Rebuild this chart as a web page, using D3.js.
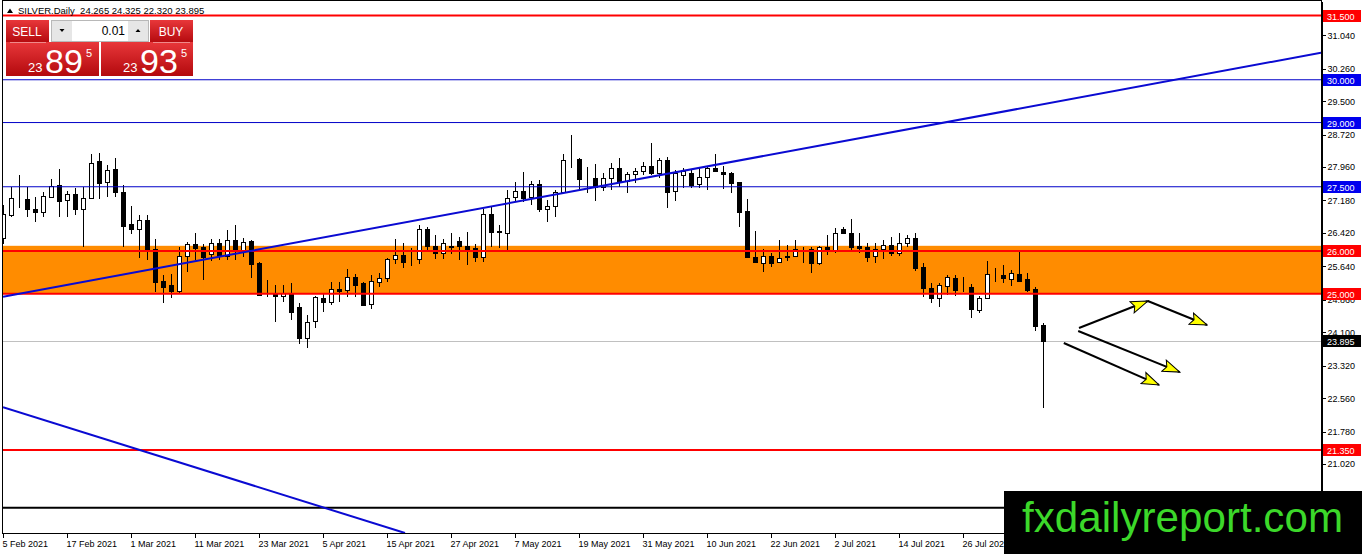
<!DOCTYPE html>
<html>
<head>
<meta charset="utf-8">
<script src="https://cdn.jsdelivr.net/npm/d3@7"></script>
<style>
  body { margin: 0; background: #fff; overflow: hidden; }
  svg { display: block; font-family: "Liberation Sans", Arial, sans-serif; }
</style>
</head>
<body>
<svg id="chart" width="1362" height="554"></svg>
<script>
// ---- data ----
const symbolTitle = "SILVER.Daily  24.265 24.325 22.320 23.895";

const dateLabels = ["5 Feb 2021", "17 Feb 2021", "1 Mar 2021", "11 Mar 2021", "23 Mar 2021", "5 Apr 2021",
  "15 Apr 2021", "27 Apr 2021", "7 May 2021", "19 May 2021", "31 May 2021", "10 Jun 2021",
  "22 Jun 2021", "2 Jul 2021", "14 Jul 2021", "26 Jul 2021"];
const dateLabelBars = [0, 8, 16, 24, 32, 40, 48, 56, 64, 72, 80, 88, 96, 104, 112, 120];

const priceTicks = [31.04, 30.26, 29.5, 28.72, 27.96, 27.18, 26.42, 25.64, 24.86, 24.1, 23.32, 22.56, 21.78, 21.02];

const opens = [26.30, 26.84, 27.21, 27.21, 26.98, 26.91, 27.26, 27.54, 27.19, 27.33,
  26.98, 27.24, 28.10, 27.61, 27.92, 27.38, 26.63, 26.51, 26.72, 26.05,
  25.30, 25.21, 25.07, 25.88, 26.16, 26.09, 25.93, 26.19, 25.88, 26.26,
  26.02, 26.23, 25.72, 24.99, 25.02, 24.95, 25.02, 24.69, 23.97, 24.36,
  24.90, 24.81, 25.11, 25.09, 25.39, 25.25, 24.76, 25.28, 25.37, 25.81,
  25.91, 25.77, 25.81, 26.51, 26.12, 25.95, 26.12, 26.23, 26.12, 26.07,
  25.86, 26.86, 26.47, 26.42, 27.26, 27.40, 27.26, 27.57, 26.98, 27.05,
  27.38, 28.15, 28.15, 27.71, 27.71, 27.50, 27.71, 27.94, 27.63, 27.80,
  27.87, 27.99, 27.82, 28.13, 27.40, 27.78, 27.82, 27.57, 27.73, 27.94,
  27.85, 27.82, 27.61, 26.93, 25.86, 25.72, 25.88, 25.74, 25.86, 25.88,
  26.05, 26.05, 25.72, 26.09, 26.00, 26.51, 26.42, 26.12, 26.09, 25.88,
  26.05, 26.14, 25.95, 26.19, 26.30, 25.63, 25.14, 24.90, 25.18, 25.37,
  25.14, 25.16, 24.62, 24.90, 25.46, 25.44, 25.35, 25.46, 25.35, 25.11,
  24.265];
const highs = [27.07, 27.50, 27.78, 27.50, 27.26, 27.38, 27.68, 27.92, 27.40, 27.47,
  27.50, 28.27, 28.29, 28.01, 28.17, 27.54, 27.05, 26.84, 26.84, 26.28,
  25.44, 25.46, 26.09, 26.21, 26.42, 26.16, 26.28, 26.28, 26.49, 26.61,
  26.30, 26.25, 25.74, 25.32, 25.21, 25.21, 25.25, 24.78, 24.50, 24.95,
  25.02, 25.28, 25.28, 25.58, 25.46, 25.27, 25.44, 25.49, 25.84, 26.28,
  26.19, 26.07, 26.61, 26.56, 26.37, 26.28, 26.42, 26.33, 26.44, 26.16,
  26.98, 27.03, 26.61, 27.43, 27.61, 27.85, 27.63, 27.66, 27.19, 27.43,
  28.27, 28.71, 28.17, 27.96, 28.03, 27.82, 28.06, 28.17, 27.85, 27.94,
  28.08, 28.52, 28.17, 28.20, 27.89, 27.94, 27.92, 27.94, 27.99, 28.27,
  27.99, 27.85, 27.62, 27.21, 26.47, 26.05, 25.95, 26.26, 26.14, 26.26,
  26.09, 26.09, 26.12, 26.37, 26.54, 26.56, 26.75, 26.42, 26.19, 26.19,
  26.26, 26.33, 26.42, 26.37, 26.42, 25.72, 25.25, 25.25, 25.44, 25.44,
  25.39, 25.23, 24.95, 25.77, 25.60, 25.67, 25.56, 25.98, 25.49, 25.16,
  24.325];
const lows = [26.16, 26.79, 27.00, 26.79, 26.68, 26.79, 27.25, 26.79, 26.79, 26.84,
  26.09, 27.23, 27.21, 27.26, 27.26, 26.09, 26.40, 25.84, 25.79, 25.04,
  24.78, 24.90, 24.99, 25.51, 25.79, 25.32, 25.77, 25.79, 25.79, 25.79,
  25.86, 25.37, 24.95, 24.93, 24.34, 24.81, 24.39, 23.83, 23.73, 24.20,
  24.57, 24.74, 24.81, 24.93, 24.93, 24.72, 24.64, 25.16, 25.28, 25.70,
  25.60, 25.65, 25.70, 25.98, 25.81, 25.81, 25.93, 25.79, 25.67, 25.74,
  25.74, 26.09, 26.07, 26.02, 27.14, 27.14, 27.07, 26.91, 26.68, 26.79,
  27.37, 27.94, 27.45, 27.35, 27.17, 27.40, 27.43, 27.50, 27.35, 27.59,
  27.78, 27.78, 27.71, 27.00, 27.17, 27.47, 27.47, 27.47, 27.43, 27.85,
  27.45, 27.35, 26.56, 25.84, 25.72, 25.51, 25.63, 25.72, 25.77, 25.86,
  25.72, 25.49, 25.67, 25.91, 25.95, 26.40, 25.98, 25.95, 25.74, 25.72,
  25.81, 25.88, 25.88, 26.09, 25.53, 24.93, 24.78, 24.69, 24.97, 24.95,
  25.04, 24.43, 24.55, 24.89, 25.28, 25.25, 25.18, 25.28, 25.04, 24.13,
  22.32];
const closes = [26.86, 27.24, 27.22, 26.98, 26.91, 27.28, 27.52, 27.17, 27.33, 26.98,
  27.24, 28.06, 27.59, 27.89, 27.38, 26.58, 26.51, 26.72, 26.05, 25.28,
  25.16, 25.07, 25.88, 26.16, 26.07, 25.86, 26.19, 25.88, 26.26, 26.02,
  26.21, 25.70, 24.97, 24.99, 24.95, 25.02, 24.57, 23.97, 24.34, 24.93,
  24.81, 25.11, 25.07, 25.39, 25.21, 24.74, 25.30, 25.37, 25.81, 25.91,
  25.74, 25.77, 26.51, 26.12, 25.95, 26.19, 26.09, 26.12, 26.02, 25.86,
  26.86, 26.44, 26.44, 27.24, 27.40, 27.24, 27.57, 26.98, 27.05, 27.38,
  28.13, 28.14, 27.68, 27.70, 27.50, 27.71, 27.94, 27.61, 27.80, 27.87,
  27.99, 27.82, 28.13, 27.38, 27.82, 27.87, 27.54, 27.73, 27.94, 27.87,
  27.80, 27.59, 26.91, 25.86, 25.74, 25.88, 25.72, 25.84, 25.88, 26.05,
  26.04, 25.72, 26.09, 26.00, 26.42, 26.42, 26.09, 26.07, 25.86, 26.05,
  26.14, 25.95, 26.19, 26.30, 25.60, 25.14, 24.90, 25.21, 25.39, 25.09,
  25.13, 24.64, 24.90, 25.46, 25.47, 25.37, 25.49, 25.30, 25.09, 24.25,
  23.895];

const lastPrice = 23.895;
const zoneTop = 26.12, zoneBottom = 25.0;
const levelPrices = [31.5, 30.0, 29.0, 27.5, 26.0, 25.0, 21.35, 20.0];
const levelKinds = ["major", "minor", "minor", "minor", "major", "major", "major", "floor"];

// trend lines and arrows as [bar, price] points
const trendUp = [[0, 24.93], [164.75, 30.63]];
const trendDown = [[0, 22.35], [50.25, 19.41]];
const arrows = [
  [[134.5, 24.20], [143.1, 24.83]],
  [[143.1, 24.83], [150.5, 24.27]],
  [[134.4, 24.13], [147.1, 23.17]],
  [[132.6, 23.85], [144.5, 22.87]]
];

// ---- styles ----
const kindStyle = {
  major: { color: "#ff0000", width: 2, tag: "#ff0000" },
  minor: { color: "#0000c8", width: 1, tag: "#0000ee" },
  floor: { color: "#000000", width: 2, tag: null }
};

const plot = { left: 3, right: 1321, top: 1, bottom: 533 };
const svg = d3.select("#chart");

const x = d3.scaleLinear().domain([0, 164.75]).range([plot.left, plot.right]);
const y = d3.scaleLinear().domain([19.41, 31.84]).range([plot.bottom, plot.top]);

svg.append("defs").append("clipPath").attr("id", "plotClip")
  .append("rect")
    .attr("x", plot.left).attr("y", plot.top)
    .attr("width", plot.right - plot.left).attr("height", plot.bottom - plot.top);

const defs = svg.select("defs");
defs.append("marker")
    .attr("id", "head")
    .attr("markerUnits", "userSpaceOnUse")
    .attr("viewBox", "-18 -7 19 14")
    .attr("refX", 0).attr("refY", 0)
    .attr("markerWidth", 19).attr("markerHeight", 14)
    .attr("orient", "auto")
  .append("path")
    .attr("d", "M0,0 L-17,-6 L-14,0 L-17,6 Z")
    .attr("fill", "#ffff00")
    .attr("stroke", "#000")
    .attr("stroke-width", 1);

const grad = defs.append("linearGradient").attr("id", "redBtn")
  .attr("x1", 0).attr("y1", 0).attr("x2", 0).attr("y2", 1);
grad.append("stop").attr("offset", "0%").attr("stop-color", "#e8373a");
grad.append("stop").attr("offset", "100%").attr("stop-color", "#b3090d");

const g = svg.append("g").attr("clip-path", "url(#plotClip)");

// zone
g.append("rect")
  .attr("x", plot.left).attr("width", plot.right - plot.left)
  .attr("y", y(zoneTop)).attr("height", y(zoneBottom) - y(zoneTop))
  .attr("fill", "#ff8c00");

// current price line
g.append("line")
  .attr("x1", plot.left).attr("x2", plot.right)
  .attr("y1", Math.round(y(lastPrice)) + 0.5).attr("y2", Math.round(y(lastPrice)) + 0.5)
  .attr("stroke", "#c0c0c0").attr("stroke-width", 1);

// candles
const bars = d3.range(opens.length).map(i => ({ i, o: opens[i], h: highs[i], l: lows[i], c: closes[i] }));
const candle = g.append("g").attr("shape-rendering", "crispEdges")
  .selectAll("g").data(bars).join("g");

candle.append("line")
  .attr("x1", d => Math.round(x(d.i)) + 0.5)
  .attr("x2", d => Math.round(x(d.i)) + 0.5)
  .attr("y1", d => y(d.h))
  .attr("y2", d => y(d.l))
  .attr("stroke", "#000");

candle.append("rect")
  .attr("x", d => Math.round(x(d.i)) - 2 + 0.5)
  .attr("width", 4)
  .attr("y", d => Math.round(y(Math.max(d.o, d.c))) + 0.5)
  .attr("height", d => Math.max(0, Math.round(Math.abs(y(d.o) - y(d.c)))))
  .attr("fill", d => d.c >= d.o ? "#fff" : "#000")
  .attr("stroke", "#000");

// horizontal levels
g.selectAll(".level").data(levelPrices).join("line")
  .attr("class", "level")
  .attr("x1", plot.left).attr("x2", plot.right)
  .attr("y1", d => y(d)).attr("y2", d => y(d))
  .attr("stroke", (d, i) => kindStyle[levelKinds[i]].color)
  .attr("stroke-width", (d, i) => kindStyle[levelKinds[i]].width);

// trend lines
const line = d3.line().x(d => x(d[0])).y(d => y(d[1]));
g.selectAll(".trend").data([trendUp, trendDown]).join("path")
  .attr("class", "trend")
  .attr("d", line)
  .attr("fill", "none")
  .attr("stroke", "#0a0ad2")
  .attr("stroke-width", 2);

// arrows
g.selectAll(".arrow").data(arrows).join("path")
  .attr("class", "arrow")
  .attr("d", line)
  .attr("fill", "none")
  .attr("stroke", "#000")
  .attr("stroke-width", 2)
  .attr("marker-end", "url(#head)");

// frame
svg.append("rect")
  .attr("x", 2.5).attr("y", 0.5)
  .attr("width", plot.right - 2.5).attr("height", plot.bottom - 0.5)
  .attr("fill", "none").attr("stroke", "#000").attr("shape-rendering", "crispEdges");

// price axis
const yAxis = svg.append("g")
  .attr("transform", `translate(${plot.right + 0.5},0)`)
  .attr("shape-rendering", "crispEdges")
  .call(d3.axisRight(y).tickValues(priceTicks).tickSize(4).tickSizeOuter(0).tickFormat(d3.format(".3f")));
yAxis.select(".domain").attr("stroke", "#000");
yAxis.selectAll("text").attr("font-size", 9).attr("font-family", "Liberation Sans, Arial, sans-serif")
  .attr("fill", "#000").attr("x", 6);

// level tags on axis
const tagged = levelPrices.map((p, i) => ({ p, style: kindStyle[levelKinds[i]] })).filter(d => d.style.tag);
tagged.push({ p: lastPrice, style: { tag: "#000" } });
const tag = svg.append("g").selectAll("g").data(tagged).join("g")
  .attr("transform", d => `translate(${plot.right + 1},${Math.round(y(d.p))})`);
tag.append("rect")
  .attr("x", 1).attr("y", -6).attr("width", 38).attr("height", 12)
  .attr("fill", d => d.style.tag);
tag.append("text")
  .attr("x", 5).attr("y", 3.5)
  .attr("font-size", 9)
  .attr("fill", "#fff")
  .text(d => d3.format(".3f")(d.p));

// date axis
const xAxis = svg.append("g")
  .attr("transform", `translate(0,${plot.bottom + 0.5})`)
  .attr("shape-rendering", "crispEdges")
  .call(d3.axisBottom(x).tickValues(dateLabelBars).tickSize(4).tickSizeOuter(0)
    .tickFormat((d, i) => dateLabels[i]));
xAxis.select(".domain").remove();
xAxis.selectAll(".tick line").attr("transform", "translate(-0.5,0)");
xAxis.selectAll("text")
  .attr("font-size", 9).attr("font-family", "Liberation Sans, Arial, sans-serif")
  .attr("fill", "#000")
  .attr("text-anchor", "start")
  .attr("x", -1).attr("y", 7).attr("dy", "0.71em");

// title
svg.append("path").attr("d", "M7,13 L10,8.5 L13,13 Z").attr("fill", "#000");
svg.append("text")
  .attr("x", 18).attr("y", 13.5)
  .attr("font-size", 9.5)
  .attr("fill", "#000")
  .attr("xml:space", "preserve")
  .style("white-space", "pre")
  .text(symbolTitle);

// one-click trading panel
const panel = svg.append("g");
panel.append("rect").attr("x", 6).attr("y", 20).attr("width", 43).attr("height", 23).attr("fill", "url(#redBtn)");
panel.append("rect").attr("x", 150).attr("y", 20).attr("width", 43).attr("height", 23).attr("fill", "url(#redBtn)");
panel.append("rect").attr("x", 6).attr("y", 42).attr("width", 93).attr("height", 34).attr("fill", "url(#redBtn)");
panel.append("rect").attr("x", 101).attr("y", 42).attr("width", 92).attr("height", 34).attr("fill", "url(#redBtn)");
panel.append("line").attr("x1", 10).attr("x2", 46).attr("y1", 42.5).attr("y2", 42.5).attr("stroke", "#f08a8a");
panel.append("line").attr("x1", 153).attr("x2", 190).attr("y1", 42.5).attr("y2", 42.5).attr("stroke", "#f08a8a");
panel.append("text").attr("x", 27).attr("y", 36).attr("text-anchor", "middle")
  .attr("font-size", 12).attr("fill", "#fff").text("SELL");
panel.append("text").attr("x", 171).attr("y", 36).attr("text-anchor", "middle")
  .attr("font-size", 12).attr("fill", "#fff").text("BUY");

// lot control
panel.append("rect").attr("x", 51.5).attr("y", 20.5).attr("width", 97).attr("height", 21)
  .attr("fill", "#fff").attr("stroke", "#b8b8b8");
panel.append("rect").attr("x", 52).attr("y", 21).attr("width", 20).attr("height", 20).attr("fill", "#e6e6e6");
panel.append("rect").attr("x", 128).attr("y", 21).attr("width", 20).attr("height", 20).attr("fill", "#e6e6e6");
panel.append("path").attr("d", "M59.5,29 L64.5,29 L62,32 Z").attr("fill", "#000");
panel.append("path").attr("d", "M135.5,32 L140.5,32 L138,29 Z").attr("fill", "#000");
panel.append("text").attr("x", 125).attr("y", 35).attr("text-anchor", "end")
  .attr("font-size", 12).attr("fill", "#000").text("0.01");

// quotes
const quotes = [
  { x0: 28, big: "89", sup: "5" },
  { x0: 123, big: "93", sup: "5" }
];
quotes.forEach(q => {
  panel.append("text").attr("x", q.x0).attr("y", 72).attr("font-size", 13).attr("fill", "#fff").text("23");
  panel.append("text").attr("x", q.x0 + 17).attr("y", 72.5).attr("font-size", 34).attr("fill", "#fff").text(q.big);
  panel.append("text").attr("x", q.x0 + 58).attr("y", 57).attr("font-size", 11).attr("fill", "#fff").text(q.sup);
});

// watermark
svg.append("rect").attr("x", 1004).attr("y", 491).attr("width", 358).attr("height", 63).attr("fill", "#000");
svg.append("text")
  .attr("x", 1022).attr("y", 532)
  .attr("font-size", 42)
  .attr("fill", "#3cd82a")
  .attr("textLength", 321)
  .attr("lengthAdjust", "spacingAndGlyphs")
  .text("fxdailyreport.com");
</script>
</body>
</html>
